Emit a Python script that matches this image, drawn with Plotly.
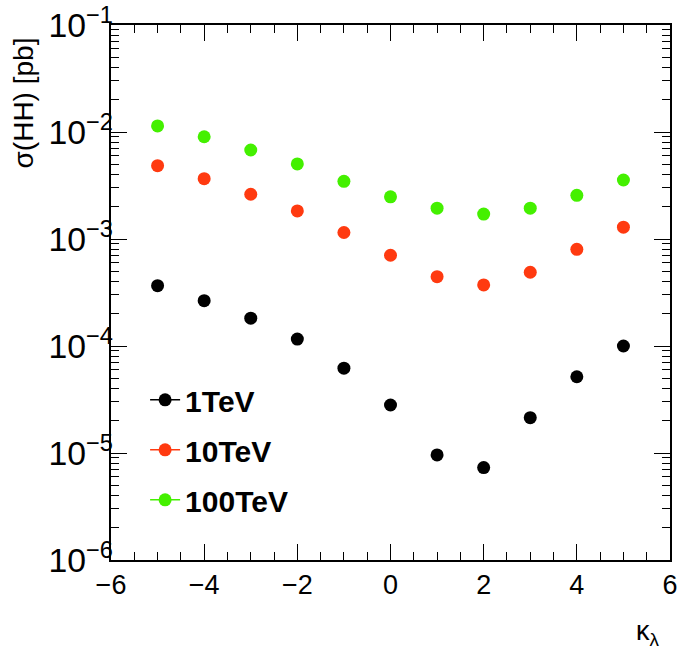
import plotly.graph_objects as go

kappa = [-5, -4, -3, -2, -1, 0, 1, 2, 3, 4, 5]
xs_1tev = [3.66e-4, 2.65e-4, 1.82e-4, 1.16e-4, 6.2e-5, 2.81e-5, 9.6e-6, 7.3e-6, 2.14e-5, 5.16e-5, 1.0e-4]
xs_10tev = [4.84e-3, 3.66e-3, 2.62e-3, 1.83e-3, 1.15e-3, 7.05e-4, 4.45e-4, 3.72e-4, 4.89e-4, 8.0e-4, 1.29e-3]
xs_100tev = [1.14e-2, 9.03e-3, 6.79e-3, 5.03e-3, 3.46e-3, 2.48e-3, 1.94e-3, 1.71e-3, 1.94e-3, 2.56e-3, 3.56e-3]
series_names = ["1TeV", "10TeV", "100TeV"]
series_colors = ["#000000", "#ff3a10", "#44f000"]

FONT = "Liberation Sans, Arial, sans-serif"

fig = go.Figure()
for name, vals, col in zip(series_names, [xs_1tev, xs_10tev, xs_100tev], series_colors):
    fig.add_trace(go.Scatter(x=kappa, y=vals, mode="markers", showlegend=False,
                             marker=dict(symbol="circle", size=13, color=col)))
    fig.add_trace(go.Scatter(x=[None], y=[None], mode="lines+markers", name=name,
                             legendgroup=name,
                             line=dict(color=col, width=1.5),
                             marker=dict(symbol="circle", size=13, color=col)))

axis_common = dict(showline=True, linecolor="black", linewidth=1.5, mirror="allticks",
                   ticks="inside", tickcolor="black", showgrid=False, zeroline=False,
                   automargin=False,
                   tickfont=dict(family=FONT, size=27, color="black"))

fig.update_xaxes(range=[-6, 6], dtick=2, tick0=-6, ticklen=16, tickwidth=1.3,
                 minor=dict(ticks="inside", ticklen=8, dtick=0.5, tickcolor="black", tickwidth=1.3),
                 **axis_common)
fig.update_yaxes(type="log", range=[-6, -1], dtick=1, ticklen=16, tickwidth=1.3,
                 exponentformat="power", ticklabelstandoff=-9,
                 minor=dict(ticks="inside", ticklen=8, dtick="D1", tickcolor="black", tickwidth=1.3),
                 **axis_common)

fig.add_annotation(text="σ(HH) [pb]", xref="paper", yref="paper", x=-0.157, y=0.98,
                   xanchor="center", yanchor="top", textangle=-90, showarrow=False,
                   font=dict(family=FONT, size=28, color="black"))
fig.add_annotation(text="κ<sub>λ</sub>", xref="paper", yref="paper", x=0.985, y=-0.1,
                   xanchor="right", yanchor="top", showarrow=False,
                   font=dict(family=FONT, size=27, color="black"))

fig.update_layout(
    width=679, height=652,
    margin=dict(l=111, r=9, t=25, b=92),
    paper_bgcolor="white", plot_bgcolor="white",
    legend=dict(x=0.061, y=0.348, xanchor="left", yanchor="top",
                bgcolor="rgba(0,0,0,0)", tracegroupgap=8,
                font=dict(family=FONT, size=30, color="black", weight="bold")),
)

fig.write_html("out.html", config={"displayModeBar": False},
               post_script="document.body.style.margin='0';document.body.style.overflow='hidden';")
